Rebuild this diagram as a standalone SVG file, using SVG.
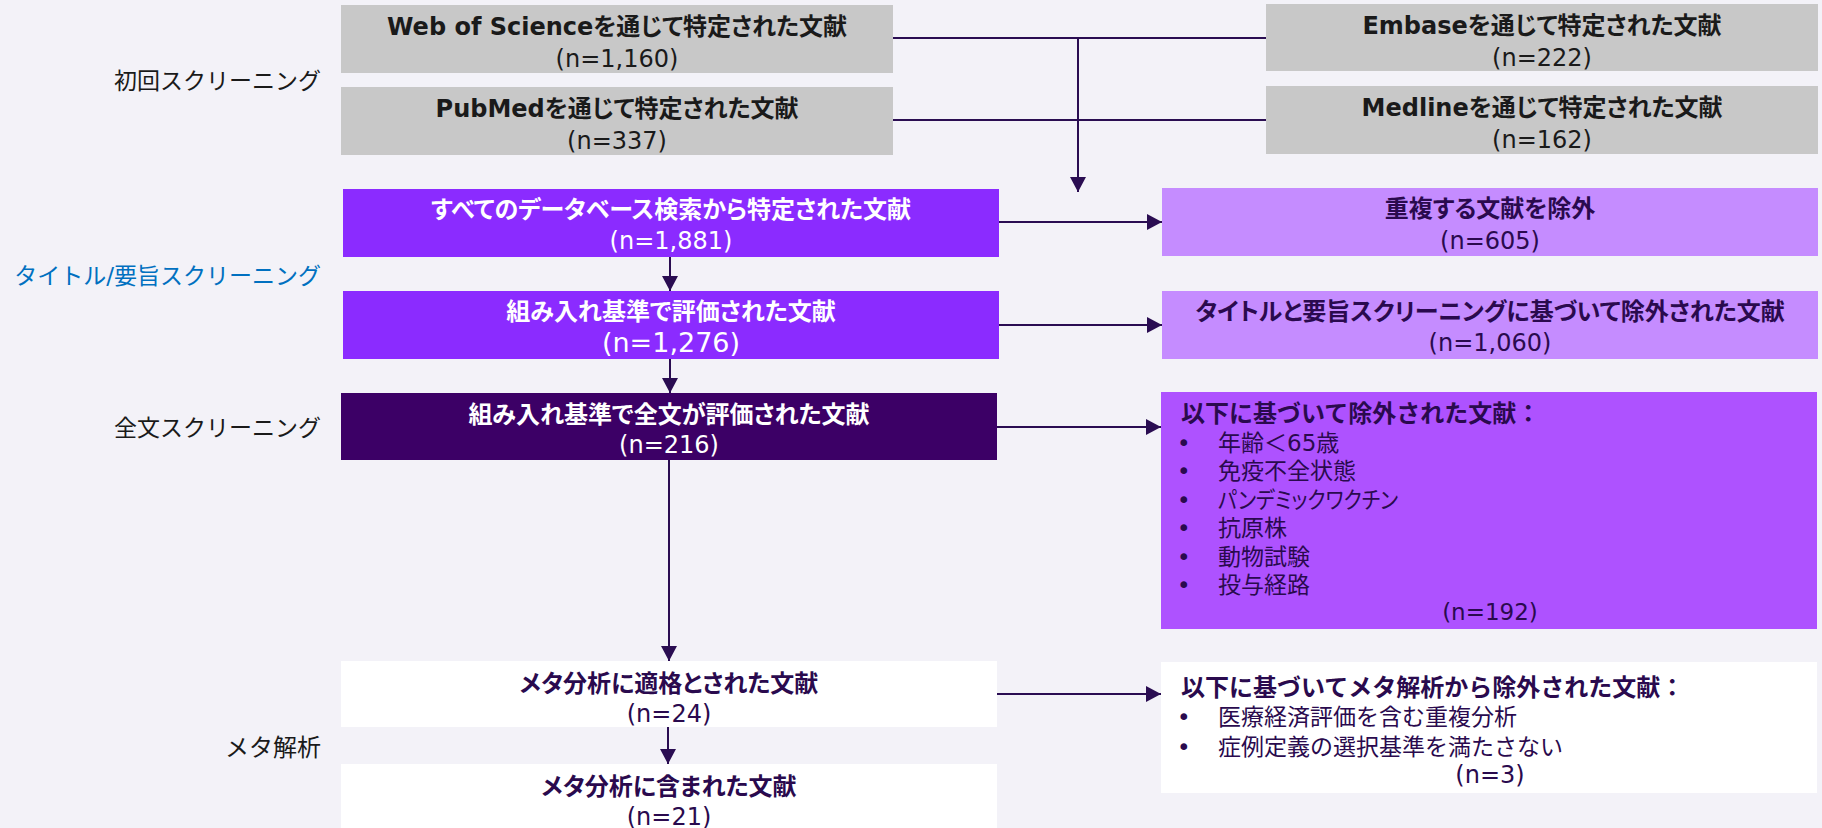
<svg xmlns="http://www.w3.org/2000/svg" width="1822" height="828" viewBox="0 0 1822 828">
<defs>
<style>
text{font-family:'DejaVu Sans','Noto Sans CJK JP',sans-serif;}
.t{font-size:24px;font-weight:bold;text-anchor:middle;font-feature-settings:"palt";}
.n{font-size:24px;text-anchor:middle;}
.lab{font-size:23px;text-anchor:end;fill:#1a1a1a;}
.blk{fill:#1a1a1a;}
.wht{fill:#ffffff;}
.dk{fill:#2a0a4e;}
.h{font-size:24px;font-weight:bold;fill:#2a0a4e;}
.b{font-size:23px;fill:#2a0a4e;}
.p{font-feature-settings:"palt";}
.conn{stroke:#2a0d52;stroke-width:2;fill:none;}
</style>
<marker id="ah" markerUnits="userSpaceOnUse" markerWidth="16" markerHeight="16" refX="15" refY="8" orient="auto">
<path d="M0,0 L15,8 L0,16 Z" fill="#2a0d52"/>
</marker>
</defs>
<rect x="0" y="0" width="1822" height="828" fill="#f3f2f8"/>

<g id="labels">
<text class="lab" x="321" y="89">初回スクリーニング</text>
<text class="lab" x="321" y="284" style="fill:#0070c0">タイトル/要旨スクリーニング</text>
<text class="lab" x="321" y="436">全文スクリーニング</text>
<text class="lab" x="321" y="756" style="font-size:24px">メタ解析</text>
</g>

<g id="connectors">
<line class="conn" x1="893" y1="38" x2="1266" y2="38"/>
<line class="conn" x1="893" y1="120" x2="1266" y2="120"/>
<line class="conn" x1="1078" y1="38" x2="1078" y2="192" marker-end="url(#ah)"/>
<line class="conn" x1="670" y1="257" x2="670" y2="291" marker-end="url(#ah)"/>
<line class="conn" x1="670" y1="359" x2="670" y2="393" marker-end="url(#ah)"/>
<line class="conn" x1="669" y1="460" x2="669" y2="661" marker-end="url(#ah)"/>
<line class="conn" x1="668" y1="727" x2="668" y2="764" marker-end="url(#ah)"/>
<line class="conn" x1="999" y1="222" x2="1162" y2="222" marker-end="url(#ah)"/>
<line class="conn" x1="999" y1="325" x2="1162" y2="325" marker-end="url(#ah)"/>
<line class="conn" x1="997" y1="427" x2="1161" y2="427" marker-end="url(#ah)"/>
<line class="conn" x1="997" y1="694" x2="1161" y2="694" marker-end="url(#ah)"/>
</g>

<g id="wos">
<rect x="341" y="5" width="552" height="68" fill="#c8c8c8"/>
<text class="t blk" x="617" y="35">Web of Scienceを通じて特定された文献</text>
<text class="n blk" x="617" y="67">(n=1,160)</text>
</g>
<g id="pubmed">
<rect x="341" y="87" width="552" height="68" fill="#c8c8c8"/>
<text class="t blk" x="617" y="117">PubMedを通じて特定された文献</text>
<text class="n blk" x="617" y="149">(n=337)</text>
</g>
<g id="embase">
<rect x="1266" y="4" width="552" height="67" fill="#c8c8c8"/>
<text class="t blk" x="1542" y="34">Embaseを通じて特定された文献</text>
<text class="n blk" x="1542" y="66">(n=222)</text>
</g>
<g id="medline">
<rect x="1266" y="86" width="552" height="68" fill="#c8c8c8"/>
<text class="t blk" x="1542" y="116">Medlineを通じて特定された文献</text>
<text class="n blk" x="1542" y="148">(n=162)</text>
</g>

<g id="all">
<rect x="343" y="189" width="656" height="68" fill="#8b2bff"/>
<text class="t wht" x="671" y="218">すべてのデータベース検索から特定された文献</text>
<text class="n wht" x="671" y="249">(n=1,881)</text>
</g>
<g id="screened">
<rect x="343" y="291" width="656" height="68" fill="#8b2bff"/>
<text class="t wht" x="671" y="320">組み入れ基準で評価された文献</text>
<text class="n wht" x="671" y="352" style="font-size:27px">(n=1,276)</text>
</g>
<g id="fulltext">
<rect x="341" y="393" width="656" height="67" fill="#3c0066"/>
<text class="t wht" x="669" y="423">組み入れ基準で全文が評価された文献</text>
<text class="n wht" x="669" y="453">(n=216)</text>
</g>
<g id="eligible">
<rect x="341" y="661" width="656" height="66" fill="#ffffff"/>
<text class="t dk" x="669" y="692">メタ分析に適格とされた文献</text>
<text class="n dk" x="669" y="722">(n=24)</text>
</g>
<g id="included">
<rect x="341" y="764" width="656" height="64" fill="#ffffff"/>
<text class="t dk" x="669" y="795">メタ分析に含まれた文献</text>
<text class="n dk" x="669" y="825">(n=21)</text>
</g>

<g id="dup">
<rect x="1162" y="188" width="656" height="68" fill="#c58cff"/>
<text class="t dk" x="1490" y="217">重複する文献を除外</text>
<text class="n dk" x="1490" y="249">(n=605)</text>
</g>
<g id="excl-title">
<rect x="1162" y="291" width="656" height="68" fill="#c58cff"/>
<text class="t dk" x="1490" y="320">タイトルと要旨スクリーニングに基づいて除外された文献</text>
<text class="n dk" x="1490" y="351">(n=1,060)</text>
</g>
<g id="excl-full">
<rect x="1161" y="392" width="656" height="237" fill="#ae52ff"/>
<text class="h" x="1181" y="422">以下に基づいて除外された文献：</text>
<text class="b" x="1177" y="451">•</text><text class="b p" x="1218" y="451">年齢＜65歳</text>
<text class="b" x="1177" y="479">•</text><text class="b" x="1218" y="479">免疫不全状態</text>
<text class="b" x="1177" y="508">•</text><text class="b p" x="1218" y="508" textLength="180" lengthAdjust="spacingAndGlyphs">パンデミックワクチン</text>
<text class="b" x="1177" y="536">•</text><text class="b" x="1218" y="536">抗原株</text>
<text class="b" x="1177" y="565">•</text><text class="b" x="1218" y="565">動物試験</text>
<text class="b" x="1177" y="593">•</text><text class="b" x="1218" y="593">投与経路</text>
<text class="b" x="1490" y="620" style="text-anchor:middle">(n=192)</text>
</g>
<g id="excl-meta">
<rect x="1161" y="662" width="656" height="131" fill="#ffffff"/>
<text class="h" x="1181" y="696">以下に基づいてメタ解析から除外された文献：</text>
<text class="b" x="1177" y="725">•</text><text class="b" x="1218" y="725">医療経済評価を含む重複分析</text>
<text class="b" x="1177" y="755">•</text><text class="b" x="1218" y="755">症例定義の選択基準を満たさない</text>
<text class="n dk" x="1490" y="783">(n=3)</text>
</g>
</svg>
